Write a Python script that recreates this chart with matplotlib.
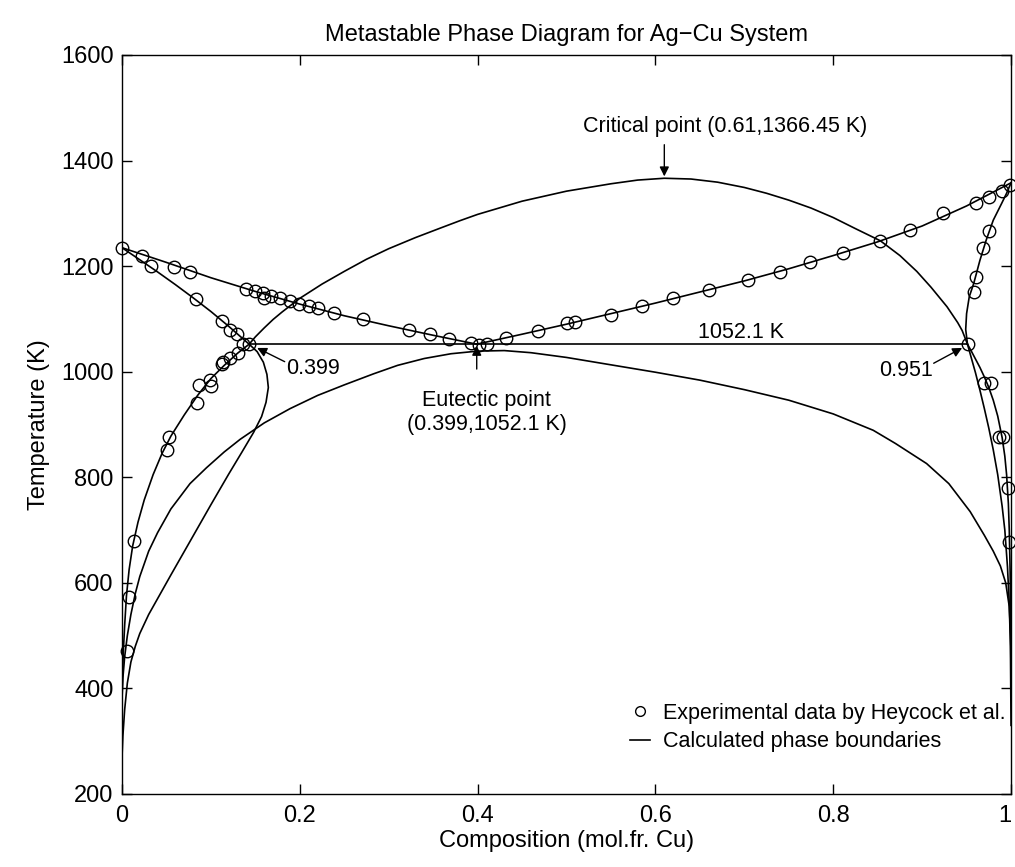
import numpy as np
import matplotlib
matplotlib.use('Agg')
import matplotlib.pyplot as plt

plt.rcParams['font.family'] = ['Liberation Sans', 'DejaVu Sans']

# experimental points (Heycock et al.)
exp_x = [0.0, 0.022, 0.033, 0.059, 0.076, 0.083, 0.113, 0.121, 0.129, 0.136, 0.143,
         0.140, 0.150, 0.159, 0.160, 0.168, 0.178, 0.189, 0.199, 0.210, 0.221, 0.238,
         0.271, 0.323, 0.346, 0.368, 0.392, 0.401, 0.411, 0.432, 0.468, 0.500, 0.510,
         0.550, 0.585, 0.620, 0.660, 0.704, 0.740, 0.774, 0.811, 0.853, 0.886, 0.923,
         0.961, 0.975, 0.990, 0.999,
         0.975, 0.969, 0.961, 0.958, 0.952,
         0.970, 0.977, 0.987, 0.991, 0.997, 0.998,
         0.131, 0.121, 0.114, 0.112, 0.099, 0.087, 0.100, 0.084, 0.053, 0.051,
         0.013, 0.008, 0.006]
exp_T = [1234, 1219, 1200, 1199, 1189, 1137, 1096, 1079, 1072, 1053, 1052,
         1156, 1153, 1149, 1139, 1143, 1139, 1134, 1129, 1125, 1120, 1112,
         1099, 1079, 1071, 1062, 1054, 1051, 1052, 1063, 1078, 1092, 1095,
         1108, 1124, 1139, 1155, 1173, 1189, 1207, 1225, 1248, 1268, 1300,
         1320, 1331, 1343, 1354,
         1267, 1235, 1179, 1151, 1053,
         978, 978, 876, 876, 780, 677,
         1036, 1025, 1019, 1014, 984, 974, 973, 940, 876, 851,
         680, 573, 470]

# calculated boundaries
liq_ag_x = [0.0, 0.05, 0.1, 0.15, 0.2, 0.25, 0.3, 0.35, 0.399]
liq_ag_T = [1234.9, 1207, 1178, 1152, 1128, 1106, 1087, 1069, 1052.1]

liq_cu_x = [0.399, 0.45, 0.5, 0.55, 0.6, 0.65, 0.7, 0.75, 0.8, 0.85, 0.9, 0.95, 1.0]
liq_cu_T = [1052.1, 1071, 1090, 1110, 1130, 1151, 1172, 1195, 1220, 1246, 1276, 1314, 1357.8]

sol_ag_x = [0.0, 0.02, 0.04, 0.06, 0.08, 0.1, 0.12, 0.143]
sol_ag_T = [1234.9, 1212, 1189, 1165, 1140, 1114, 1086, 1052.1]

sol_cu_x = [0.951, 0.949, 0.950, 0.953, 0.958, 0.965, 0.972, 0.980, 0.9895, 0.995, 1.0]
sol_cu_T = [1052.1, 1080, 1110, 1142, 1167, 1211, 1249, 1287, 1319, 1338, 1357.8]

solv_ag_x = [0.143, 0.13, 0.115, 0.1, 0.085, 0.07, 0.055, 0.045, 0.035, 0.025, 0.018,
             0.012, 0.008, 0.005, 0.003, 0.0015, 0.0005, 0.0]
solv_ag_T = [1052.1, 1035, 1012, 987, 955, 918, 878, 845, 805, 757, 715,
             670, 625, 575, 520, 470, 420, 380]

solv_cu_x = [0.951, 0.955, 0.96, 0.965, 0.97, 0.975, 0.98, 0.985, 0.99, 0.993, 0.995,
             0.997, 0.998, 0.999, 0.9995, 1.0]
solv_cu_T = [1052.1, 1040, 1024, 1008, 990, 970, 946, 916, 875, 840, 805,
             750, 700, 620, 540, 420]

# miscibility gap: left lower branch, dome, right lower branch
gap_l_x = [0.0, 0.001, 0.003, 0.006, 0.01, 0.015, 0.02, 0.03, 0.039, 0.055, 0.077,
           0.1, 0.12, 0.135, 0.148, 0.157, 0.162, 0.1646, 0.163, 0.159, 0.152, 0.143]
gap_l_T = [270, 310, 360, 410, 450, 480, 504, 540, 567, 615, 680,
           748, 806, 848, 885, 915, 942, 970, 995, 1018, 1038, 1052.1]

dome_x = [0.143, 0.15, 0.16, 0.17, 0.18, 0.2, 0.225, 0.25, 0.275, 0.3, 0.33, 0.358,
          0.38, 0.4, 0.43, 0.45, 0.5, 0.55, 0.58, 0.61, 0.64, 0.67, 0.7, 0.725,
          0.75, 0.775, 0.8, 0.825, 0.853, 0.875, 0.894, 0.91, 0.928, 0.94, 0.945, 0.951]
dome_T = [1052.1, 1066, 1083, 1099, 1113, 1139, 1166, 1190, 1213, 1233, 1254, 1272,
          1286, 1298, 1313, 1323, 1342, 1356, 1363, 1366.45, 1365, 1359, 1349, 1338,
          1325, 1310, 1292, 1271, 1248, 1220, 1190, 1160, 1123, 1093, 1078, 1052.1]

gap_r_x = [0.951, 0.955, 0.96, 0.965, 0.97, 0.975, 0.98, 0.985, 0.99, 0.993, 0.996,
           0.998, 0.9993, 1.0]
gap_r_T = [1052.1, 1028, 998, 965, 930, 893, 852, 805, 745, 700, 630,
           560, 480, 330]

# lower wide curve
low_x = [0.0, 0.001, 0.003, 0.006, 0.01, 0.015, 0.02, 0.03, 0.04, 0.055, 0.0765,
         0.095, 0.115, 0.133, 0.16, 0.189, 0.22, 0.25, 0.283, 0.31, 0.34, 0.37,
         0.4, 0.43, 0.46, 0.5, 0.55, 0.6, 0.65, 0.7, 0.75, 0.8, 0.845, 0.87,
         0.905, 0.93, 0.954, 0.97, 0.98, 0.988, 0.994, 0.998, 0.9995, 1.0]
low_T = [380, 420, 460, 500, 540, 580, 612, 660, 695, 740, 788,
         818, 848, 872, 903, 930, 955, 975, 996, 1012, 1025, 1034,
         1039, 1040, 1036, 1027, 1013, 999, 984, 966, 946, 920, 889, 864,
         826, 788, 735, 690, 660, 632, 600, 555, 500, 420]

eut_x = [0.143, 0.951]
eut_T = [1052.1, 1052.1]

fig = plt.figure(figsize=(10.15, 8.67), dpi=100)
ax = fig.add_axes([0.1202, 0.0842, 0.8759, 0.8524])

lw = 1.2
curves = [(liq_ag_x, liq_ag_T), (liq_cu_x, liq_cu_T), (sol_ag_x, sol_ag_T),
          (sol_cu_x, sol_cu_T), (solv_ag_x, solv_ag_T), (solv_cu_x, solv_cu_T),
          (gap_l_x, gap_l_T), (dome_x, dome_T), (gap_r_x, gap_r_T),
          (low_x, low_T), (eut_x, eut_T)]
for cx, cT in curves:
    ax.plot(cx, cT, color='k', lw=lw)

ax.plot(exp_x, exp_T, 'o', mfc='none', mec='k', ms=9, mew=1.0, clip_on=False)

# legend handles
h1, = ax.plot([], [], 'o', mfc='none', mec='k', ms=7, mew=1.0)
h2, = ax.plot([], [], '-', color='k', lw=lw)
ax.legend([h1, h2], ['Experimental data by Heycock et al.', 'Calculated phase boundaries'],
          loc='lower left', bbox_to_anchor=(0.55, 0.03), frameon=False, fontsize=15.5,
          handlelength=0.9, handletextpad=0.6, labelspacing=0.35)

ann = dict(arrowstyle='-|>', color='k', lw=1.0, mutation_scale=14, shrinkA=0, shrinkB=0)
ax.annotate('', xy=(0.61, 1370), xytext=(0.61, 1430), arrowprops=ann)
ax.text(0.519, 1464, 'Critical point (0.61,1366.45 K)', fontsize=15.5, ha='left', va='center')

ax.annotate('', xy=(0.399, 1049), xytext=(0.399, 1005), arrowprops=ann)
ax.text(0.41, 965, 'Eutectic point\n(0.399,1052.1 K)', fontsize=15.5, ha='center', va='top',
        multialignment='center', linespacing=1.15)

ax.annotate('', xy=(0.152, 1045), xytext=(0.183, 1019), arrowprops=ann)
ax.text(0.185, 1006, '0.399', fontsize=15.5, ha='left', va='center')

ax.annotate('', xy=(0.945, 1045), xytext=(0.913, 1016), arrowprops=ann)
ax.text(0.912, 1003, '0.951', fontsize=15.5, ha='right', va='center')

ax.text(0.696, 1055, '1052.1 K', fontsize=15.5, ha='center', va='bottom')

ax.set_xlim(0, 1)
ax.set_ylim(200, 1600)
ax.set_xticks([0, 0.2, 0.4, 0.6, 0.8, 1])
ax.set_xticklabels(['0', '0.2', '0.4', '0.6', '0.8', '1'])
ax.get_xticklabels()[-1].set_horizontalalignment('right')
ax.set_yticks(range(200, 1601, 200))
ax.tick_params(direction='in', length=7, width=1, top=True, right=True, labelsize=17)
ax.tick_params(axis='x', pad=8)
ax.tick_params(axis='y', pad=6)
for s in ax.spines.values():
    s.set_linewidth(1.0)

ax.set_xlabel('Composition (mol.fr. Cu)', fontsize=17, labelpad=2)
ax.set_ylabel('Temperature (K)', fontsize=17, labelpad=8)
ax.set_title('Metastable Phase Diagram for Ag\u2212Cu System', fontsize=17, pad=10)

fig.savefig('out.png', dpi=100)
